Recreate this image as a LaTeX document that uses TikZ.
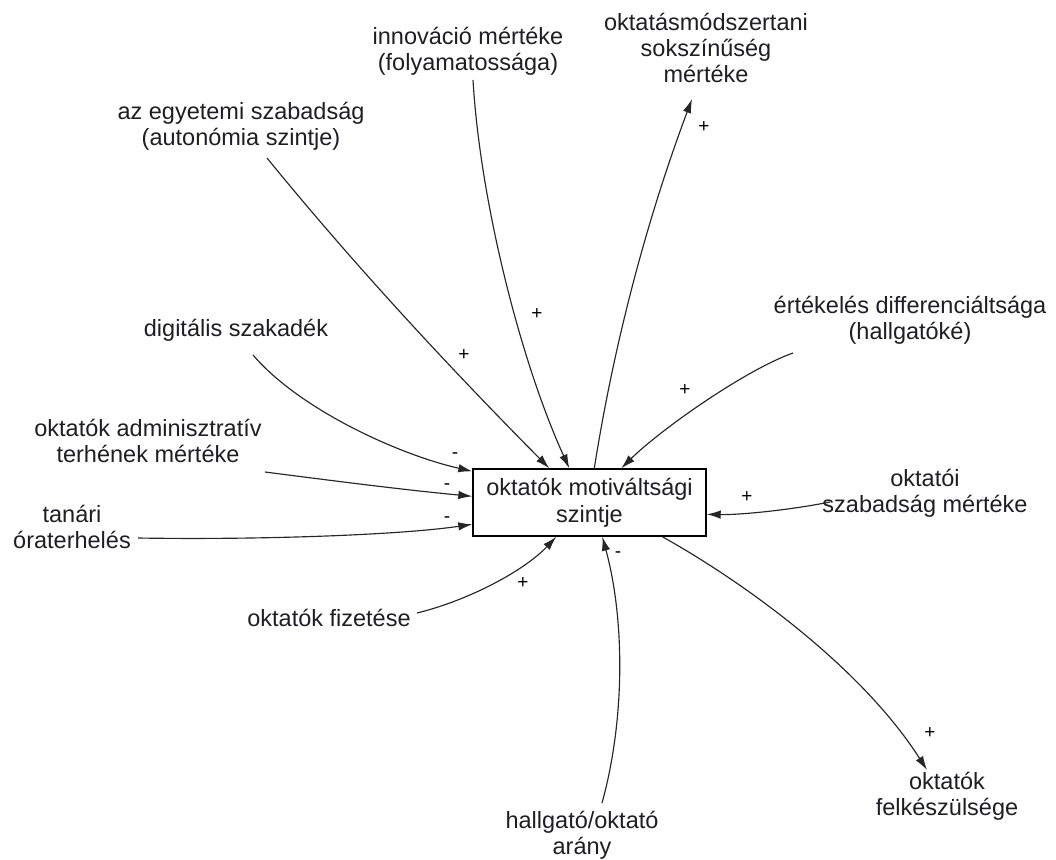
\documentclass[tikz,border=0pt]{standalone}
\usepackage{fontspec}
\setmainfont{Liberation Sans}
\usetikzlibrary{arrows.meta}
\definecolor{ink}{HTML}{1E1E24}
\begin{document}
\begin{tikzpicture}[x=1pt,y=-1pt,
  lab/.style={inner sep=0pt, align=center, text=ink, font=\fontsize{23.5}{26}\selectfont},
  mainbox/.style={draw=black, line width=1.4pt, fill=white, inner sep=2pt, align=center,
    minimum width=233pt, minimum height=67pt, text=ink, font=\fontsize{23.5}{27}\selectfont},
  sgn/.style={inner sep=0pt, font=\fontsize{19}{19}\selectfont, text=black},
  link/.style={draw=black!85, line width=1.15pt, -{Latex[length=14pt,width=8.5pt]}}]
\useasboundingbox (0,0) rectangle (1056,859);

\node[mainbox] (box) at (589.5,502.5) {oktatók motiváltsági\\szintje};

\node[lab] (aze) at (241,126) {az egyetemi szabadság\\(autonómia szintje)};
\node[lab] (inn) at (468,51) {innováció mértéke\\(folyamatossága)};
\node[lab] (okm) at (706,48) {oktatásmódszertani\\sokszínűség\\mértéke};
\node[lab] (ert) at (910,320) {értékelés differenciáltsága\\(hallgatóké)};
\node[lab] (dig) at (236,330) {digitális szakadék};
\node[lab] (adm) at (148,441) {oktatók adminisztratív\\terhének mértéke};
\node[lab] (tan) at (72,527) {tanári\\óraterhelés};
\node[lab] (oks) at (925,493) {oktatói\\szabadság mértéke};
\node[lab] (fiz) at (329,618) {oktatók fizetése};
\node[lab] (hal) at (582,835) {hallgató/oktató\\arány};
\node[lab] (fel) at (947,796) {oktatók\\felkészülsége};

\draw[link] ([xshift=26pt,yshift=-32pt]aze.center) .. controls (355,266) and (450,368) .. ([xshift=77pt]box.north west);
\draw[link] ([xshift=5pt,yshift=-29pt]inn.center) .. controls (480,200) and (520,360) .. ([xshift=97pt]box.north west);
\draw[link] ([xshift=122pt]box.north west) .. controls (614,343) and (647,219) .. ([xshift=-14pt,yshift=-51pt]okm.center);
\draw[link] ([xshift=-117pt,yshift=-33pt]ert.center) .. controls (745,370) and (660,430) .. ([xshift=149pt]box.north west);
\draw[link] ([xshift=17pt,yshift=-25pt]dig.center) .. controls (300,410) and (400,455) .. ([yshift=-3pt]box.north west);
\draw[link] ([xshift=117pt,yshift=-31pt]adm.center) .. controls (335,481) and (405,490) .. ([yshift=-28pt]box.north west);
\draw[link] ([xshift=66pt,yshift=-11pt]tan.center) .. controls (260,540) and (400,535) .. ([yshift=-56pt]box.north west);
\draw[link] ([xshift=-95pt,yshift=-9pt]oks.center) .. controls (790,510) and (740,515) .. ([yshift=-46pt]box.north east);
\draw[link] ([xshift=88pt,yshift=5pt]fiz.center) .. controls (470,600) and (525,570) .. ([xshift=84pt]box.south west);
\draw[link] ([xshift=20pt,yshift=32pt]hal.center) .. controls (625,720) and (625,620) .. ([xshift=130pt]box.south west);
\draw[link] ([xshift=190pt]box.south west) .. controls (740,580) and (860,665) .. ([xshift=-20pt,yshift=26pt]fel.center);

\node[sgn] (s1) at (464,355) {+};
\node[sgn] (s2) at (537,314) {+};
\node[sgn] (s3) at (704,127) {+};
\node[sgn] (s4) at (685,390) {+};
\node[sgn] (s5) at (455,456) {-};
\node[sgn] (s6) at (447,487) {-};
\node[sgn] (s7) at (447,520) {-};
\node[sgn] (s8) at (747,497) {+};
\node[sgn] (s9) at (523,583) {+};
\node[sgn] (s10) at (618,555) {-};
\node[sgn] (s11) at (930,733) {+};
\end{tikzpicture}
\end{document}
